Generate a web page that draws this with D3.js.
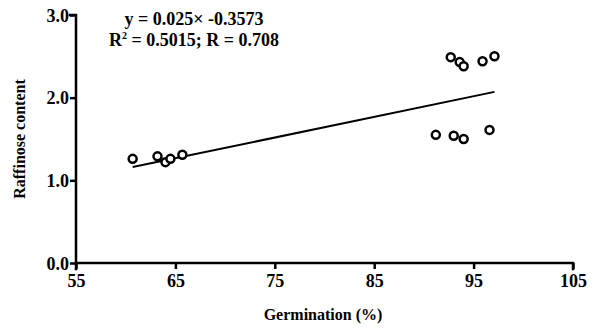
<!DOCTYPE html>
<html>
<head>
<meta charset="utf-8">
<script src="https://cdn.jsdelivr.net/npm/d3@7"></script>
<style>
  body { margin: 0; background: #fff; }
  text { font-family: "Liberation Serif", "Times New Roman", serif; font-weight: bold; fill: #000; }
</style>
</head>
<body>
<svg id="chart" width="592" height="331"></svg>
<script>
// Germination (%) vs raffinose content
const germination = [60.7, 63.2, 64.0, 64.5, 65.7, 92.7, 93.6, 94.0, 95.9, 97.1, 91.2, 93.0, 94.0, 96.6];
const raffinose = [1.26, 1.29, 1.22, 1.26, 1.31, 2.49, 2.43, 2.38, 2.44, 2.50, 1.55, 1.54, 1.50, 1.61];
const xTicks = [55, 65, 75, 85, 95, 105];
const yTicks = [0, 1, 2, 3];
const slope = 0.025;
const intercept = -0.3573;

const svg = d3.select('#chart');
const x = d3.scaleLinear().domain([55, 105]).range([76, 573]);
const y = d3.scaleLinear().domain([0, 3]).range([263, 15]);

const xAxis = d3.axisBottom(x).tickValues(xTicks).tickSize(6).tickPadding(1)
  .tickFormat(d3.format('d'));
const yAxis = d3.axisLeft(y).tickValues(yTicks).tickSize(6).tickPadding(1)
  .tickFormat(d3.format('.1f'));

const gx = svg.append('g').attr('transform', `translate(0,${y(0)})`).call(xAxis);
const gy = svg.append('g').attr('transform', `translate(${x(55)},0)`).call(yAxis);
[gx, gy].forEach(g => {
  g.selectAll('path, line').attr('stroke', '#000').attr('stroke-width', 2.5);
  g.select('.domain').attr('stroke-linecap', 'square');
  g.selectAll('text').attr('fill', '#000').style('font-size', '18px')
    .style('font-family', '"Liberation Serif", serif').style('font-weight', 'bold');
});
gx.select('.domain').attr('d', `M${x(55)},0H${x(105)}V6`);
gy.select('.domain').attr('d', `M-6,${y(3)}H0V${y(0) + 6}`);
gx.selectAll('text').attr('dy', '0.95em');
gy.selectAll('text').attr('dy', '0.35em');

// regression line over the data range
const xMin = d3.min(germination), xMax = d3.max(germination);
svg.append('line')
  .attr('x1', x(xMin)).attr('y1', y(slope * xMin + intercept))
  .attr('x2', x(xMax)).attr('y2', y(slope * xMax + intercept))
  .attr('stroke', '#000').attr('stroke-width', 2);

svg.selectAll('circle.pt')
  .data(germination)
  .enter().append('circle')
  .attr('class', 'pt')
  .attr('cx', d => x(d))
  .attr('cy', (d, i) => y(raffinose[i]))
  .attr('r', 4)
  .attr('fill', '#fff')
  .attr('stroke', '#000')
  .attr('stroke-width', 2.5);

// equation text
svg.append('text').attr('x', 194).attr('y', 25).attr('text-anchor', 'middle')
  .style('font-size', '18px').text('y = 0.025\u00d7 -0.3573');
const t2 = svg.append('text').attr('x', 194).attr('y', 46).attr('text-anchor', 'middle')
  .style('font-size', '18px');
t2.append('tspan').text('R');
t2.append('tspan').attr('dy', -7).style('font-size', '10px').text('2');
t2.append('tspan').attr('dy', 7).text(' = 0.5015; R = 0.708');

// axis titles
svg.append('text').attr('x', 323).attr('y', 320).attr('text-anchor', 'middle')
  .style('font-size', '16px').text('Germination (%)');
svg.append('text').attr('transform', 'translate(25,139) rotate(-90)')
  .attr('text-anchor', 'middle').style('font-size', '16px').text('Raffinose content');
</script>
</body>
</html>
